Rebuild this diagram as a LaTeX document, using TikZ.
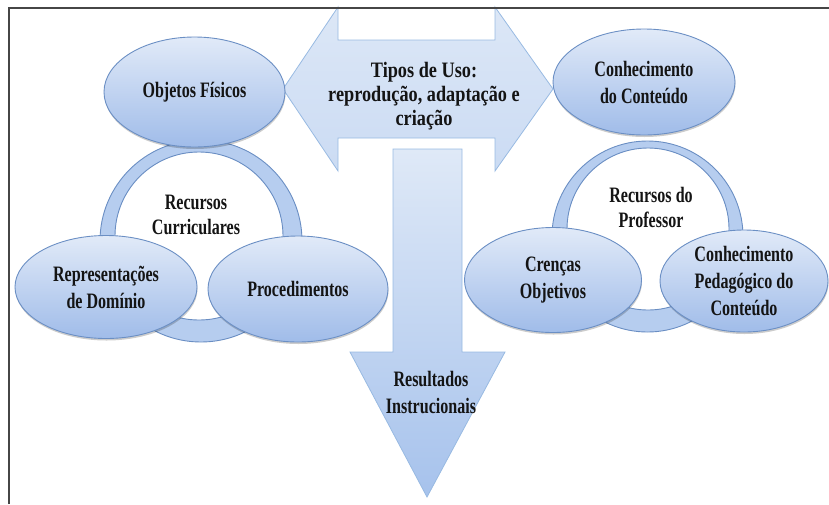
\documentclass[tikz,border=0pt]{standalone}
\usepackage{fontspec}
\setmainfont{Liberation Serif}
\newfontfamily\narrowserif[FakeStretch=0.73]{Liberation Serif}
\newfontfamily\wideserif[FakeStretch=0.83]{Liberation Serif}
\usetikzlibrary{shapes.geometric, shadows}

\definecolor{ellTop}{HTML}{E1EAF8}
\definecolor{ellBot}{HTML}{A0BCE9}
\definecolor{ellLine}{HTML}{6B8FC4}
\definecolor{ringFill}{HTML}{B6CDEF}
\definecolor{ringLine}{HTML}{6A8EC3}
\definecolor{arrTop}{HTML}{DFE9F7}
\definecolor{arrBot}{HTML}{A6C2EC}
\definecolor{arrLine}{HTML}{98BAE2}
\definecolor{ink}{HTML}{141414}

\begin{document}
\begin{tikzpicture}[
	x=1pt, y=-1pt,
	% Define styles
	bubble/.style={ellipse, draw=ellLine, line width=0.9pt, top color=ellTop, bottom color=ellBot, inner sep=0pt, align=center, text=ink, font=\narrowserif\bfseries\fontsize{22}{27}\selectfont, drop shadow={shadow xshift=0.5pt, shadow yshift=-2pt, opacity=0.2, fill=black}},
	ring/.style={fill=ringFill, draw=ringLine, line width=0.9pt, even odd rule},
	bigarrow/.style={draw=arrLine, line width=0.8pt},
	caption/.style={align=center, text=ink, font=\narrowserif\bfseries\fontsize{22}{25}\selectfont}
	]
	\useasboundingbox (0,0) rectangle (829,504);
	
	% 1. Tipos de uso (double arrow)
	\draw[bigarrow, top color=arrTop!95!arrBot, bottom color=arrTop!65!arrBot] (283,89) -- (338,7) -- (338,40) -- (495,40) -- (495,7) -- (553,89) -- (495,171) -- (495,138) -- (338,138) -- (338,171) -- cycle;
	\node[caption, font=\wideserif\bfseries\fontsize{22}{24}\selectfont] (tipos) at (424,96) {Tipos de Uso:\\reprodução, adaptação e\\criação};
	
	% 2. Resultados (down arrow)
	\draw[bigarrow, top color=arrTop, bottom color=arrBot] (393,149) -- (462,149) -- (462,352) -- (505,352) -- (427,497) -- (350,352) -- (393,352) -- cycle;
	\node[caption, font=\narrowserif\bfseries\fontsize{22}{27}\selectfont] (result) at (431,392) {Resultados\\Instrucionais};
	
	% 3. Recursos curriculares
	\path[ring] (201,241) circle[radius=101pt] (199,236) circle[radius=84pt];
	\node[caption] (rcur) at (196,215) {Recursos\\Curriculares};
	\node[bubble, minimum width=181pt, minimum height=110pt] (obj) at (194.5,92) {Objetos Físicos};
	\node[bubble, minimum width=182pt, minimum height=103pt] (rep) at (106,287) {Representações\\de Domínio};
	\node[bubble, minimum width=180pt, minimum height=106pt] (proc) at (298,289) {Procedimentos};
	
	% 4. Recursos do professor
	\path[ring] (647.5,236.5) circle[radius=95.5pt] (648,229) circle[radius=81pt];
	\node[caption] (rprof) at (651,207) {Recursos do\\Professor};
	\node[bubble, minimum width=182pt, minimum height=106pt] (conh) at (644,82) {Conhecimento\\do Conteúdo};
	\node[bubble, minimum width=177pt, minimum height=105pt] (cren) at (553,280) {Crenças\\Objetivos};
	\node[bubble, minimum width=168pt, minimum height=102pt] (ped) at (744,281) {Conhecimento\\Pedagógico do\\Conteúdo};
	
	% Frame
	\draw[gray!55!black, line width=1.6pt] (9,504) -- (9,8) -- (829,8);
\end{tikzpicture}
\end{document}
